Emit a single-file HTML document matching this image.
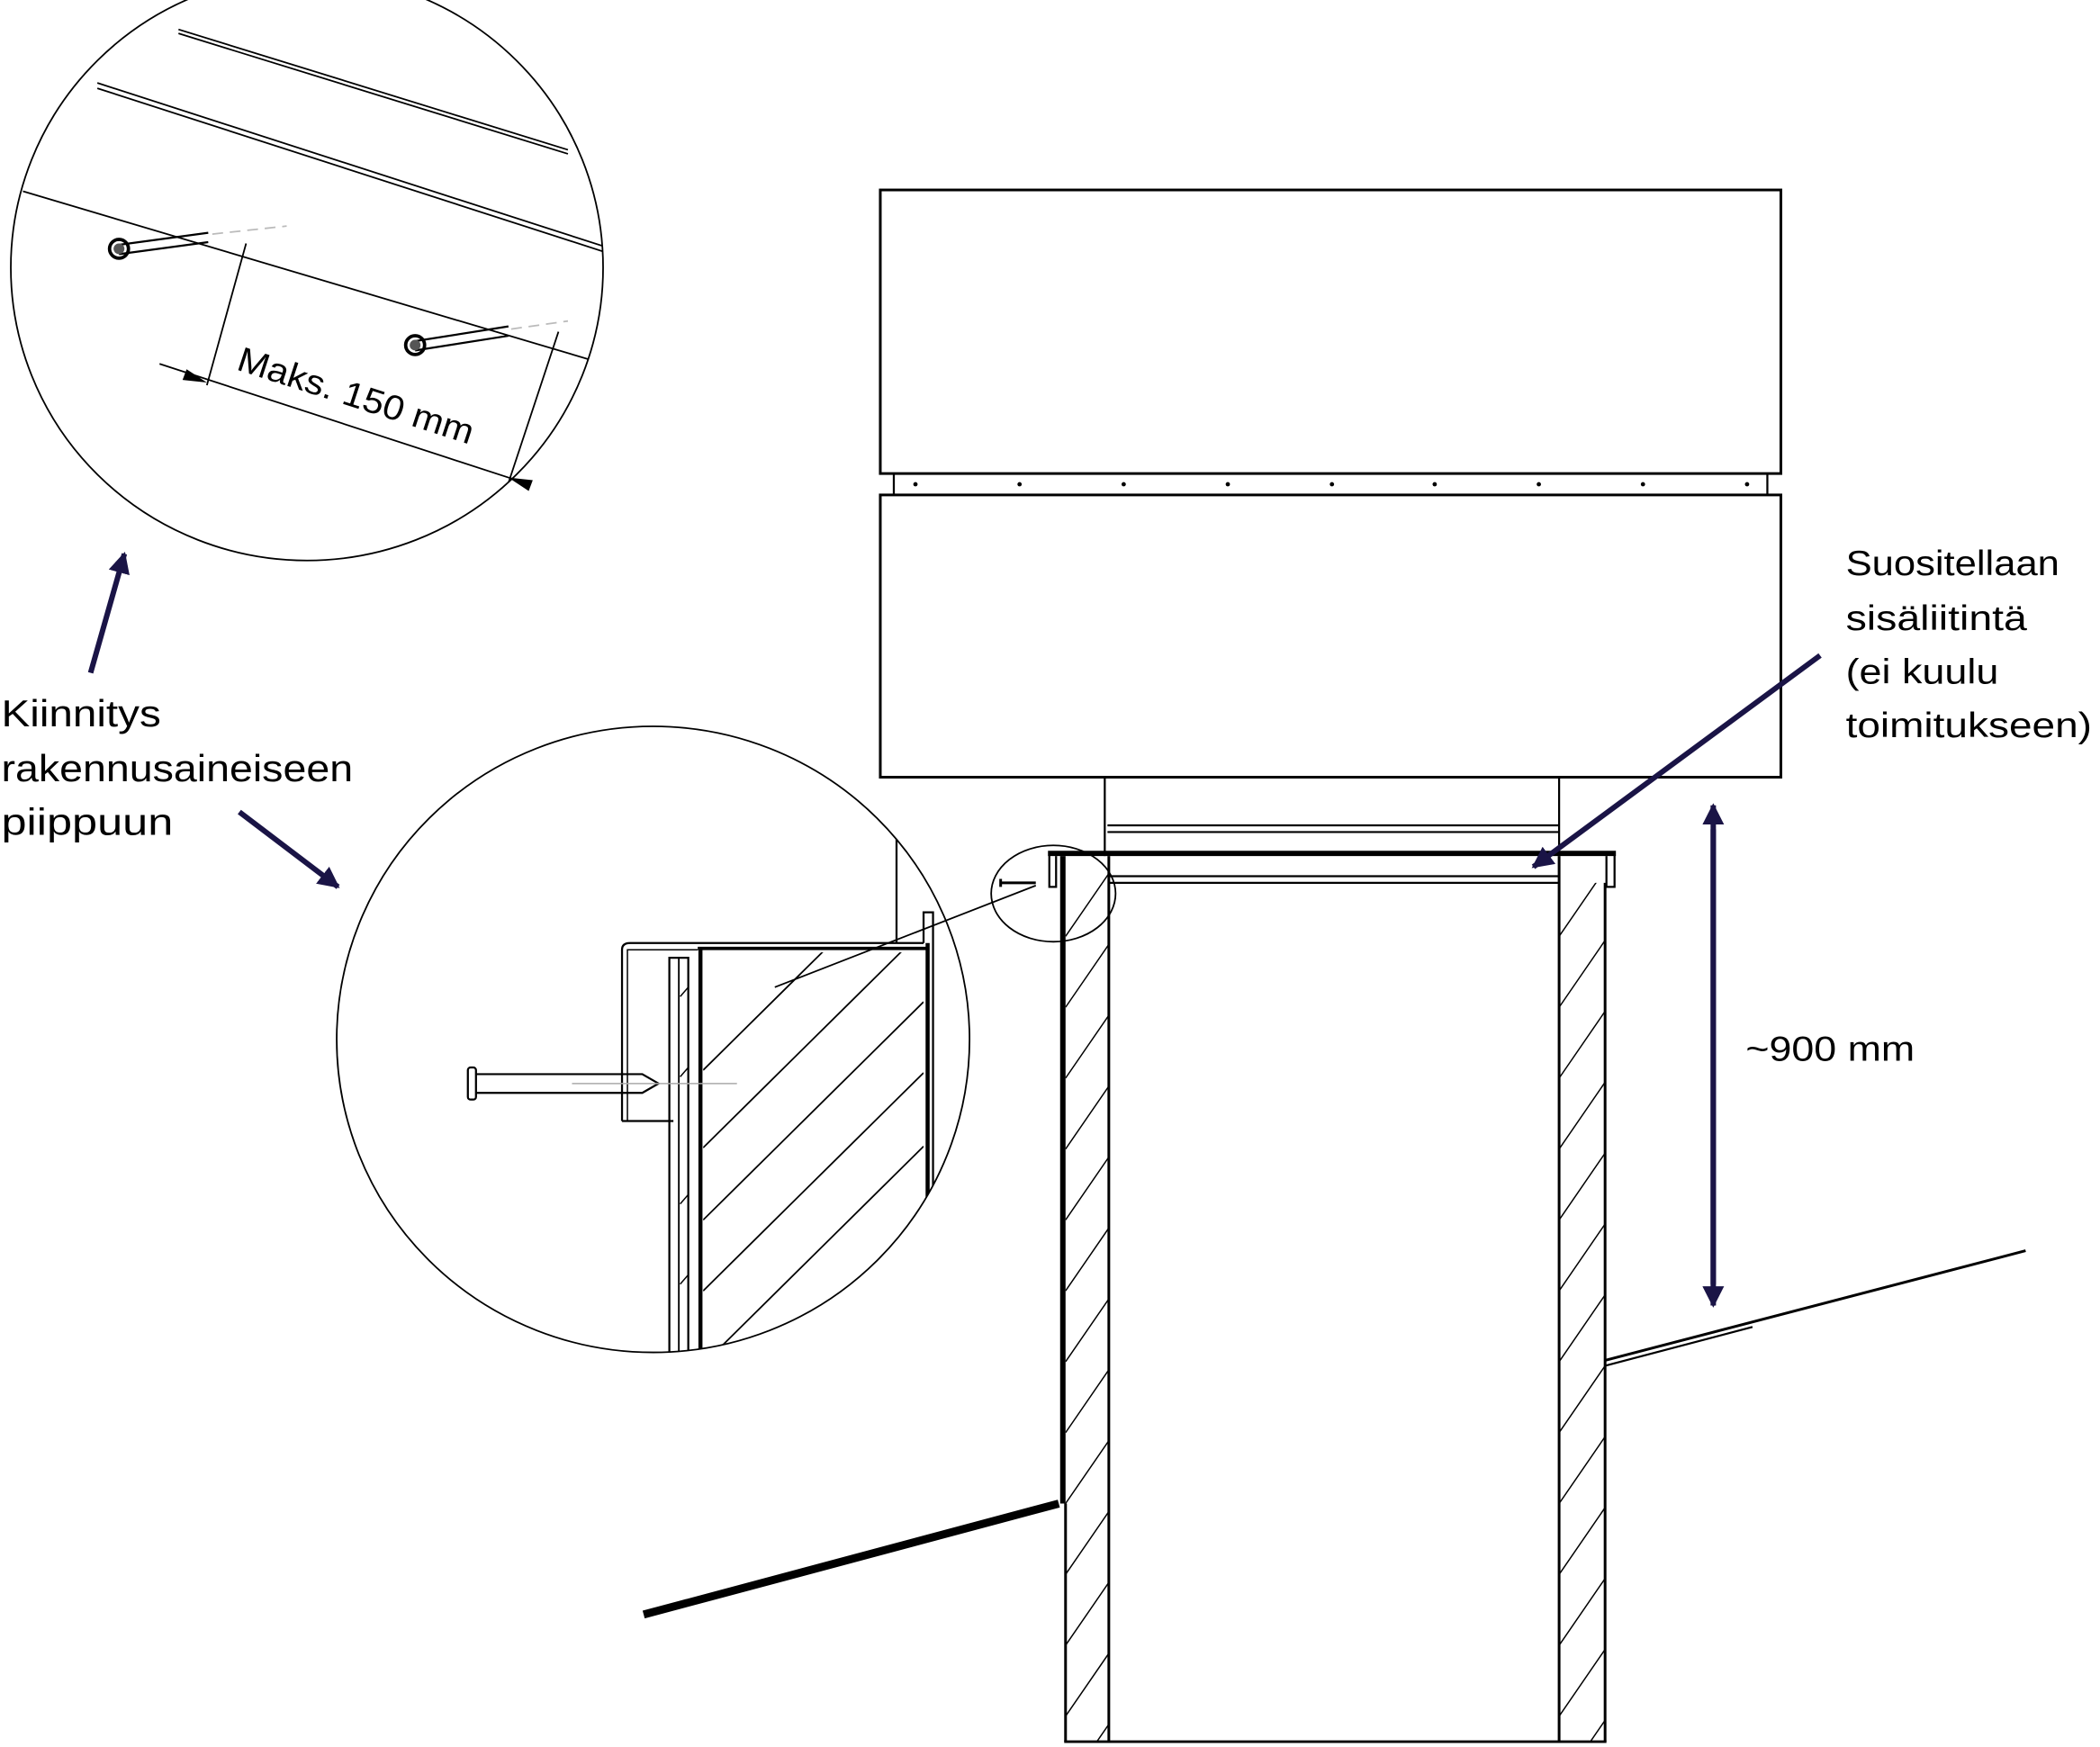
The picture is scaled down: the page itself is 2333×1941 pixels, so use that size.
<!DOCTYPE html>
<html><head><meta charset="utf-8"><style>html,body{margin:0;padding:0;background:#fff}svg{display:block}</style></head><body>
<svg width="2333" height="1941" viewBox="0 0 1553 1306" preserveAspectRatio="none" xmlns="http://www.w3.org/2000/svg" font-family="Liberation Sans, sans-serif">
<defs>
<clipPath id="c1"><circle cx="227" cy="200" r="219"/></clipPath>
<clipPath id="c2"><circle cx="483" cy="777" r="234"/></clipPath>
<clipPath id="lw"><rect x="788" y="640" width="32" height="662"/></clipPath>
<clipPath id="rw"><rect x="1153" y="660" width="34" height="642"/></clipPath>
<clipPath id="hw"><rect x="520" y="712" width="163" height="300"/></clipPath>
<marker id="ah" viewBox="0 0 10 10" refX="9" refY="5" markerWidth="4" markerHeight="4" orient="auto"><path d="M0,0L10,5L0,10z" fill="#1a1446"/></marker>
</defs>
<g fill="none" stroke="#000">
<rect x="651" y="142" width="666" height="212" stroke-width="2"/>
<rect x="661" y="354" width="646" height="16" stroke-width="1.5"/>
<rect x="651" y="370" width="666" height="211" stroke-width="2"/>
<line x1="817" y1="581" x2="817" y2="640" stroke-width="1.5"/>
<line x1="1153" y1="581" x2="1153" y2="640" stroke-width="1.5"/>
<line x1="819" y1="617" x2="1153" y2="617" stroke-width="1.5"/>
<line x1="819" y1="622" x2="1153" y2="622" stroke-width="1.5"/>
<line x1="775" y1="638" x2="1195" y2="638" stroke-width="4"/>
<path d="M776,638V663H781V640M1194,638V663H1188V640" stroke-width="1.5"/>
<line x1="820" y1="655" x2="1153" y2="655" stroke-width="1.5"/>
<line x1="820" y1="660" x2="1153" y2="660" stroke-width="1.5"/>
<line x1="786" y1="640" x2="786" y2="1124" stroke-width="4"/>
<line x1="788" y1="1124" x2="788" y2="1302" stroke-width="2"/>
<line x1="820" y1="640" x2="820" y2="1303" stroke-width="2"/>
<line x1="1153" y1="640" x2="1153" y2="1303" stroke-width="2"/>
<line x1="1187" y1="660" x2="1187" y2="1302" stroke-width="2"/>
<line x1="787" y1="1302" x2="1188" y2="1302" stroke-width="2"/>
<g clip-path="url(#lw)" stroke-width="1">
<path d="M788,700l32,-47M788,753l32,-47M788,806l32,-47M788,859l32,-47M788,912l32,-47M788,965l32,-47M788,1018l32,-47M788,1071l32,-47M788,1124l32,-47M788,1177l32,-47M788,1230l32,-47M788,1283l32,-47M788,1336l32,-47"/>
</g>
<g clip-path="url(#rw)" stroke-width="1">
<path d="M1153,700l34,-50M1153,753l34,-50M1153,806l34,-50M1153,859l34,-50M1153,912l34,-50M1153,965l34,-50M1153,1018l34,-50M1153,1071l34,-50M1153,1124l34,-50M1153,1177l34,-50M1153,1230l34,-50M1153,1283l34,-50M1153,1336l34,-50"/>
</g>
<path d="M476,1207L783,1124" stroke-width="6"/>
<path d="M1187,1017L1498,935" stroke-width="2"/>
<path d="M1187,1021L1296,992" stroke-width="1.5"/>
<ellipse cx="779" cy="668" rx="46" ry="36" stroke-width="1.2"/>
<path d="M740,660h26M740,657v6" stroke-width="2"/>
<line x1="766" y1="662" x2="573" y2="738" stroke-width="1.2"/>
<circle cx="483" cy="777" r="234" stroke-width="1.2"/>
<g clip-path="url(#c2)">
<line x1="663" y1="600" x2="663" y2="705" stroke-width="1.5"/>
<path d="M460,838V710Q460,705 466,705H683" stroke-width="1.5"/>
<path d="M464,838V710H516" stroke-width="1"/>
<line x1="460" y1="838" x2="498" y2="838" stroke-width="1.5"/>
<path d="M683,705V682H690V900" stroke-width="1.5"/>
<line x1="686" y1="705" x2="686" y2="900" stroke-width="3"/>
<line x1="516" y1="709" x2="686" y2="709" stroke-width="2.5"/>
<line x1="518" y1="709" x2="518" y2="1010" stroke-width="3"/>
<rect x="495" y="716" width="14" height="300" stroke-width="1.5"/>
<line x1="502" y1="716" x2="502" y2="1016" stroke-width="1.2"/>
<g clip-path="url(#hw)" stroke-width="1.2">
<path d="M520,800l100,-100M520,858l163,-163M520,912l163,-163M520,965l163,-163M520,1020l163,-163M520,1075l163,-163M520,1130l163,-163"/>
</g>
<path d="M503,745l6,-7M503,805l6,-7M503,900l6,-7M503,960l6,-7" stroke-width="1"/>
<rect x="346" y="798" width="6" height="24" rx="2" stroke-width="1.5"/>
<path d="M352,803H475L487,810L475,817H352" stroke-width="1.5"/>
<line x1="423" y1="810" x2="545" y2="810" stroke="#aaa" stroke-width="1"/>
</g>
<circle cx="227" cy="200" r="219" stroke-width="1.2"/>
<g clip-path="url(#c1)" stroke-width="1.2">
<path d="M132,22L420,112M132,25L420,115"/>
<path d="M72,62L446,184M72,66L446,188"/>
<path d="M17,143L440,270"/>
<path d="M88,190L154,181M88,183L154,174" stroke-width="1.5"/>
<path d="M307,262L376,251M307,255L376,244" stroke-width="1.5"/>
<path d="M157,175L212,169M378,246L420,240" stroke="#bbb" stroke-dasharray="8,5"/>
<path d="M182,182L153,288M413,248L376,361"/>
<path d="M118,272L376,357L412,368"/>
</g>
<circle cx="88" cy="186" r="7" stroke-width="2.5"/>
<circle cx="307" cy="258" r="7" stroke-width="2.5"/>
<g stroke="#1a1446" stroke-width="4">
<line x1="67" y1="503" x2="92" y2="414" marker-end="url(#ah)"/>
<line x1="177" y1="607" x2="250" y2="663" marker-end="url(#ah)"/>
<line x1="1346" y1="490" x2="1134" y2="648" marker-end="url(#ah)"/>
<line x1="1267" y1="620" x2="1267" y2="976" marker-end="url(#ah)"/>
<line x1="1267" y1="960" x2="1267" y2="602" marker-end="url(#ah)"/>
</g>
</g>
<g fill="#000">
<circle cx="88" cy="186" r="4" fill="#555"/><circle cx="307" cy="258" r="4" fill="#555"/>
<polygon points="153,286 135,284 138,276"/>
<polygon points="376,357 394,359 391,367"/>
<circle cx="677" cy="362" r="1.6"/><circle cx="754" cy="362" r="1.6"/><circle cx="831" cy="362" r="1.6"/><circle cx="908" cy="362" r="1.6"/><circle cx="985" cy="362" r="1.6"/><circle cx="1061" cy="362" r="1.6"/><circle cx="1138" cy="362" r="1.6"/><circle cx="1215" cy="362" r="1.6"/><circle cx="1292" cy="362" r="1.6"/>
</g>
<g font-size="28" fill="#000">
<text x="1" y="543" textLength="118" lengthAdjust="spacingAndGlyphs">Kiinnitys</text>
<text x="1" y="584" textLength="260" lengthAdjust="spacingAndGlyphs">rakennusaineiseen</text>
<text x="1" y="624" textLength="127" lengthAdjust="spacingAndGlyphs">piippuun</text>
</g>
<g font-size="26" fill="#000">
<text x="1365" y="430" textLength="158" lengthAdjust="spacingAndGlyphs">Suositellaan</text>
<text x="1365" y="471" textLength="134" lengthAdjust="spacingAndGlyphs">sisäliitintä</text>
<text x="1365" y="511" textLength="113" lengthAdjust="spacingAndGlyphs">(ei kuulu</text>
<text x="1365" y="551" textLength="182" lengthAdjust="spacingAndGlyphs">toimitukseen)</text>
<text x="1291" y="793" textLength="125" lengthAdjust="spacingAndGlyphs">~900 mm</text>
<text x="0" y="0" font-size="26" transform="translate(174,276) rotate(18)" textLength="182" lengthAdjust="spacingAndGlyphs">Maks. 150 mm</text>
</g>
</svg>
</body></html>
